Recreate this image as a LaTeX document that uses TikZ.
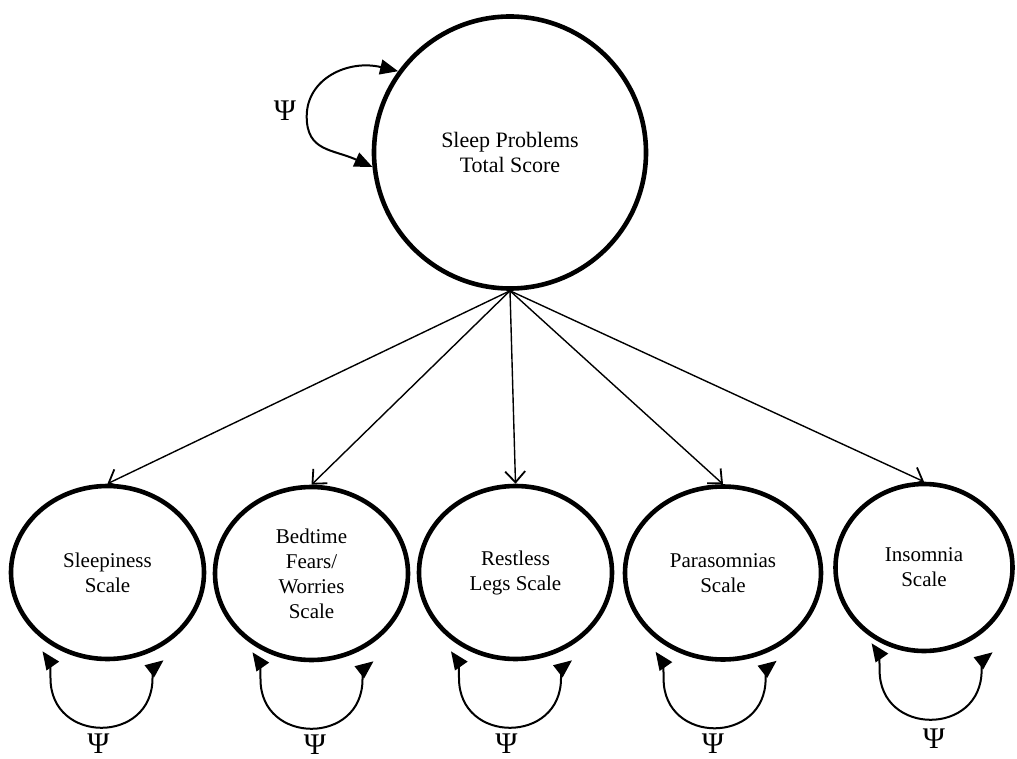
\documentclass[tikz,border=0pt]{standalone}
\usepackage{fontspec}
\setmainfont{Liberation Serif}
\usetikzlibrary{shapes.geometric,arrows.meta,calc}
\newcommand\scaleloop[2]{%
  \draw[varloop] ($(#1.south)+(#2-59,-10)$) .. controls +(7,10) and +(0,-10) ..
    ($(#1.south)+(#2-51,17)$) .. controls +(0,66) and +(0,66) ..
    ($(#1.south)+(#2+51,17)$) .. controls +(0,-10) and +(-9,7) ..
    ($(#1.south)+(#2+62,-1)$);}
\begin{document}
\begin{tikzpicture}[x=1pt,y=-1pt,
  latent/.style={ellipse,draw,line width=4.6pt,inner sep=0pt,align=center,
    font=\fontsize{21}{25}\selectfont},
  bigcirc/.style={latent,minimum width=272pt,minimum height=272pt,
    font=\fontsize{22}{25}\selectfont},
  smallcirc/.style={latent,minimum width=193pt,minimum height=173pt},
  loadarrow/.style={line width=1.4pt,-{Straight Barb[length=11pt,width=20pt,line width=1.8pt]}},
  varloop/.style={line width=2pt,{Triangle[length=18pt,width=15pt]}-{Triangle[length=18pt,width=15pt]}},
  psilabel/.style={inner sep=0pt,font=\fontsize{30}{32}\selectfont}]
\fill[white] (0,0) rectangle (1017,759);
\useasboundingbox (0,0) rectangle (1017,759);

\node[bigcirc] (t) at (510,152.5) {Sleep Problems\\Total Score};
\node[smallcirc] (s1) at (107.5,572.5) {Sleepiness\\Scale};
\node[smallcirc] (s2) at (311.5,573.5) {Bedtime\\Fears/\\Worries\\Scale};
\node[smallcirc] (s3) at (515.5,572.5) {Restless\\Legs Scale};
\node[smallcirc,minimum width=196pt] (s4) at (723,573) {Parasomnias\\Scale};
\node[smallcirc,minimum width=177pt,minimum height=167pt] (s5) at (924,567.5) {Insomnia\\Scale};

% loadings
\foreach \n in {s1,s2,s3,s4,s5}
  \draw[loadarrow] (t.south) -- (\n.north);

% variance of the total score
\draw[varloop] (t.144) .. controls +(-50,-12) and +(0,-38) .. ($(t.west)+(-65,-36)$)
  .. controls +(0,35) and +(-40,-18) .. (t.186);
\node[psilabel] (p0) at (285,111) {Ψ};

% variances of the scales
\scaleloop{s1}{-6}
\node[psilabel] (p1) at ($(s1.south)+(-9,82)$) {Ψ};
\scaleloop{s2}{0}
\node[psilabel] (p2) at ($(s2.south)+(3.5,82)$) {Ψ};
\scaleloop{s3}{-5.5}
\node[psilabel] (p3) at ($(s3.south)+(-9,82)$) {Ψ};
\scaleloop{s4}{-8.4}
\node[psilabel] (p4) at ($(s4.south)+(-10,82)$) {Ψ};
\scaleloop{s5}{6.6}
\node[psilabel] (p5) at ($(s5.south)+(10,85)$) {Ψ};
\end{tikzpicture}
\end{document}
